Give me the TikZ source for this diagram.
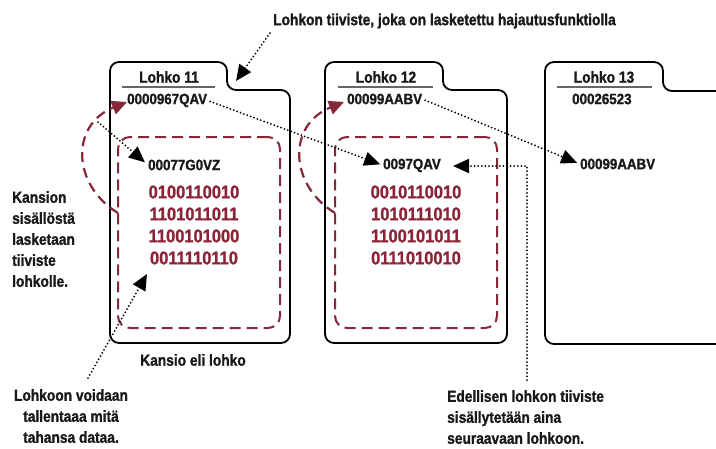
\documentclass[tikz,border=0pt]{standalone}
\usepackage{fontspec}
\newfontfamily\lab{Liberation Sans}[FakeStretch=0.86,BoldFeatures={FakeBold=1.2}]
\newfontfamily\hsh{Liberation Sans}[FakeStretch=0.89,BoldFeatures={FakeBold=1.2}]
\usetikzlibrary{arrows.meta}
\definecolor{bred}{RGB}{140,36,56}
\definecolor{dred}{RGB}{132,40,58}
\begin{document}
\begin{tikzpicture}[x=1pt,y=-1pt,
 folder/.style={draw=black,line width=1.8pt,rounded corners=9pt},
 innerbox/.style={draw=dred,line width=2pt,dash pattern=on 11pt off 6pt,rounded corners=12pt,minimum width=162pt,minimum height=191pt,inner sep=0pt},
 txt/.style={font=\lab\bfseries\fontsize{16}{21}\selectfont, inner sep=0pt, text=black!90},
 hashl/.style={font=\hsh\bfseries\fontsize{15}{18}\selectfont, inner sep=0pt, text=black!90},
 bin/.style={font=\hsh\bfseries\fontsize{18.5}{22}\selectfont, text=bred, inner sep=0pt},
 uline/.style={draw=black!60,line width=1.2pt},
 dots/.style={line width=2pt, dash pattern=on 0pt off 3.6pt, line cap=round},
 tri/.style={-{Triangle[length=16pt,width=14pt]}},
 redarc/.style={draw=dred, line width=2.2pt, dash pattern=on 10pt off 6pt, -{Triangle[length=15pt,width=14pt]}},
]
\clip (0,0) rectangle (716,448);
\fill[white] (0,0) rectangle (716,448);

% folders
\draw[folder] (110,200) -- (110,62) -- (227,62) -- (227,90) -- (290,90) -- (290,343) -- (110,343) -- cycle;
\draw[folder] (325,200) -- (325,62) -- (443,62) -- (443,90) -- (507,90) -- (507,343) -- (325,343) -- cycle;
\draw[folder] (545,200) -- (545,62) -- (663,62) -- (663,91) -- (760,91) -- (760,344) -- (545,344) -- cycle;

% inner dashed boxes
\node[innerbox] (in11) at (199,232.5) {};
\node[innerbox] (in12) at (416,232.5) {};

% titles
\node[txt] (t11) at (169,77) {Lohko 11};
\node[txt] (t12) at (386,77) {Lohko 12};
\node[txt] (t13) at (604,77) {Lohko 13};
\draw[uline] (122,87) -- (215,87);
\draw[uline] (338,87) -- (433,87);
\draw[uline] (557,87) -- (652,87);

% hashes
\node[hashl,anchor=mid west] (h11) at (127,102) {0000967QAV};
\node[hashl,anchor=mid west] (h12) at (347,102) {00099AABV};
\node[hashl,anchor=mid west] (h13) at (572,102) {00026523};

\node[hashl,anchor=mid west] (p11) at (148,168) {00077G0VZ};
\node[hashl,anchor=mid west] (p12) at (383,167) {0097QAV};
\node[hashl,anchor=mid west] (p13) at (580,167) {00099AABV};

% binary data
\node[bin] (b11a) at (194,192) {0100110010};
\node[bin] (b11b) at (194,214) {1101011011};
\node[bin] (b11c) at (194,236) {1100101000};
\node[bin] (b11d) at (194,258) {0011110110};
\node[bin] (b12a) at (416,192) {0010110010};
\node[bin] (b12b) at (416,214) {1010111010};
\node[bin] (b12c) at (416,236) {1100101011};
\node[bin] (b12d) at (416,258) {0111010010};

% texts
\node[txt,anchor=mid west] (ann) at (273,23) {Lohkon tiiviste, joka on lasketettu hajautusfunktiolla};
\node[txt,anchor=north west,align=left] (kans) at (12,191) {Kansion\\sisällöstä\\lasketaan\\tiiviste\\lohkolle.};
\node[txt] (kl) at (193,360) {Kansio eli lohko};
\node[txt,anchor=north,align=center] (lv) at (71,389) {Lohkoon voidaan\\tallentaaa mitä\\tahansa dataa.};
\node[txt,anchor=north west,align=left] (ed) at (447,390) {Edellisen lohkon tiiviste\\sisällytetään aina\\seuraavaan lohkoon.};

% coordinates
\coordinate (annfoot) at (270,33);
\coordinate (tab11) at (236,81);
\coordinate (prev11) at (98,122);
\coordinate (e1) at (527,380);
\coordinate (e2) at (527,166);
\coordinate (l1) at (88,378);
\coordinate (d11) at (147,274);
\coordinate (r11s) at (118,213);
\coordinate (r11e) at (127,102);
\coordinate (r12s) at (335,213);
\coordinate (r12e) at (344,102);

% dotted connectors
\draw[dots,tri] (annfoot) -- (tab11);
\draw[dots,tri,shorten <=3pt,shorten >=3pt] (h11.east) -- (p12.west);
\draw[dots,tri,shorten <=3pt,shorten >=3pt] (h12.east) -- (p13.west);
\draw[dots,tri,shorten >=4pt] (prev11) -- (p11.west);
\draw[dots,tri,shorten >=12pt] (e1) -- (e2) -- (p12.east |- e2);
\draw[dots,tri] (l1) -- (d11);

% red curved arrows
\draw[redarc] (r11s) .. controls (72,185) and (70,125) .. (r11e);
\draw[redarc] (r12s) .. controls (289,185) and (287,125) .. (r12e);
\end{tikzpicture}
\end{document}
